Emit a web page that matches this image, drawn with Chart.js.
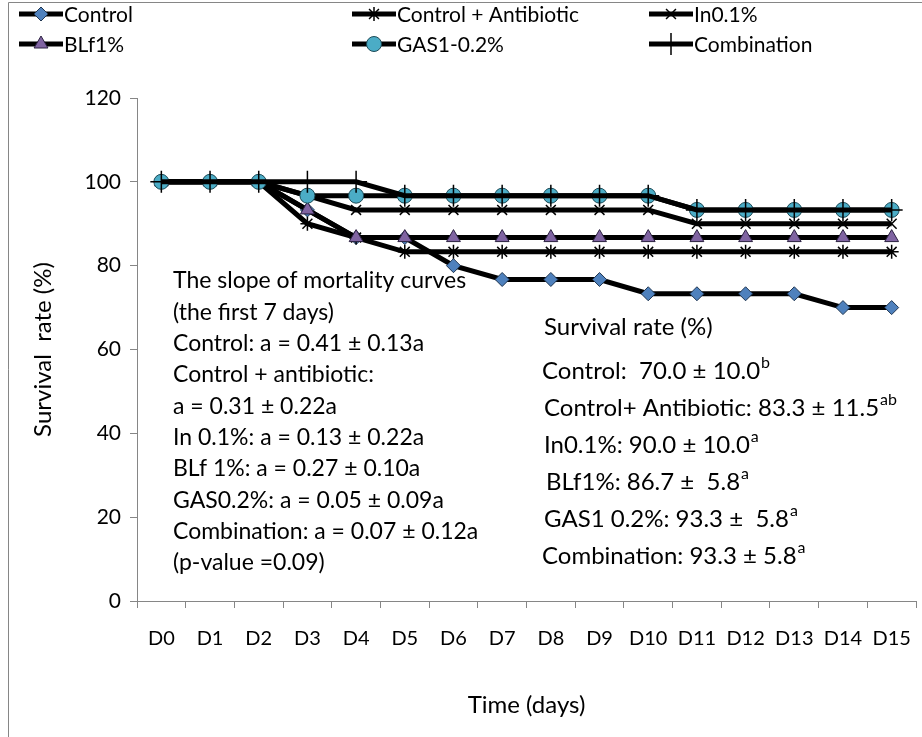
<!DOCTYPE html>
<html>
<head>
<meta charset="utf-8">
<script src="https://cdn.jsdelivr.net/npm/chart.js@4.4.1/dist/chart.umd.min.js"></script>
<style>
  html, body { margin: 0; padding: 0; background: #fff; }
  #wrap { position: relative; width: 922px; height: 737px; }
  canvas { display: block; }
</style>
</head>
<body>
<div id="wrap"><canvas id="c" width="922" height="737"></canvas></div>
<script>
// ---- data ----
const categories = ['D0','D1','D2','D3','D4','D5','D6','D7','D8','D9','D10','D11','D12','D13','D14','D15'];
const seriesNames = ['Control','Control + Antibiotic','In0.1%','BLf1%','GAS1-0.2%','Combination'];
const control      = [100,100,100,93.3,86.7,86.7,80,76.7,76.7,76.7,73.3,73.3,73.3,73.3,70,70];
const controlAntib = [100,100,100,90,86.7,83.3,83.3,83.3,83.3,83.3,83.3,83.3,83.3,83.3,83.3,83.3];
const in01         = [100,100,100,96.7,93.3,93.3,93.3,93.3,93.3,93.3,93.3,90,90,90,90,90];
const blf1         = [100,100,100,93.3,86.7,86.7,86.7,86.7,86.7,86.7,86.7,86.7,86.7,86.7,86.7,86.7];
const gas02        = [100,100,100,96.7,96.7,96.7,96.7,96.7,96.7,96.7,96.7,93.3,93.3,93.3,93.3,93.3];
const combination  = [100,100,100,100,100,96.7,96.7,96.7,96.7,96.7,96.7,93.3,93.3,93.3,93.3,93.3];
const yTickValues  = [0,20,40,60,80,100,120];
const yAxisTitle = 'Survival  rate (%)';
const xAxisTitle = 'Time (days)';
const slopeLines = [
  'The slope of mortality curves',
  '(the first 7 days)',
  'Control: a = 0.41 \u00b1 0.13a',
  'Control + antibiotic:',
  'a = 0.31 \u00b1 0.22a',
  'In 0.1%: a = 0.13 \u00b1 0.22a',
  'BLf 1%: a = 0.27 \u00b1 0.10a',
  'GAS0.2%: a = 0.05 \u00b1 0.09a',
  'Combination: a = 0.07 \u00b1 0.12a',
  '(p-value =0.09)'
];
const survivalTitle = 'Survival rate (%)';
const survivalLabels = ['Control:  70.0 \u00b1 10.0','Control+ Antibiotic: 83.3 \u00b1 11.5','In0.1%: 90.0 \u00b1 10.0','BLf1%: 86.7 \u00b1  5.8','GAS1 0.2%: 93.3 \u00b1  5.8','Combination: 93.3 \u00b1 5.8'];
const survivalLetters = ['b','ab','a','a','a','a'];

// ---- styles ----
const FONT = 'Lato, "Open Sans", sans-serif';
const seriesData = [control, controlAntib, in01, blf1, gas02, combination];
const markerStyles = [
  {pointStyle:'rectRot', radius:7, fill:'#4F81BD', border:'#1f3550', bw:1},
  {pointStyle:'star', radius:7, fill:'#000', border:'#000', bw:1.5},
  {pointStyle:'crossRot', radius:7, fill:'#000', border:'#000', bw:1.5},
  {pointStyle:'triangle', radius:8, fill:'#8064A2', border:'#2b2140', bw:1},
  {pointStyle:'circle', radius:7.5, fill:'#4BACC6', border:'#1d4a56', bw:1},
  {pointStyle:'cross', radius:11, fill:'#000', border:'#000', bw:1.5}
];

const datasets = seriesNames.map((name, i) => ({
  label: name,
  data: seriesData[i],
  borderColor: '#000',
  backgroundColor: '#000',
  borderWidth: 5,
  tension: 0,
  clip: false,
  pointStyle: markerStyles[i].pointStyle,
  pointRadius: markerStyles[i].radius,
  pointHoverRadius: markerStyles[i].radius,
  pointBackgroundColor: markerStyles[i].fill,
  pointBorderColor: markerStyles[i].border,
  pointBorderWidth: markerStyles[i].bw,
  order: seriesNames.length - i
}));

function drawMarker(ctx, ms, x, y) {
  ctx.save();
  ctx.fillStyle = ms.fill;
  ctx.strokeStyle = ms.border;
  ctx.lineWidth = ms.bw;
  if (Chart.helpers && Chart.helpers.drawPoint) {
    Chart.helpers.drawPoint(ctx, {pointStyle: ms.pointStyle, radius: ms.radius, borderWidth: ms.bw, rotation: 0}, x, y);
  }
  ctx.restore();
}

const legendPlugin = {
  id: 'customLegend',
  afterDraw(chart) {
    const ctx = chart.ctx;
    const cols = [19, 352, 649];
    const rows = [14, 44];
    const lineLen = 44;
    ctx.save();
    ctx.font = '21px ' + FONT;
    ctx.textBaseline = 'middle';
    seriesNames.forEach((name, i) => {
      const x = cols[i % 3], y = rows[Math.floor(i / 3)];
      ctx.strokeStyle = '#000';
      ctx.lineWidth = 5;
      ctx.beginPath();
      ctx.moveTo(x, y); ctx.lineTo(x + lineLen, y); ctx.stroke();
      drawMarker(ctx, markerStyles[i], x + lineLen / 2, y);
      ctx.fillStyle = '#000';
      ctx.fillText(name, x + lineLen + 1, y + 1);
    });
    ctx.restore();
  }
};

const annotPlugin = {
  id: 'annot',
  beforeDraw(chart) {
    const ctx = chart.ctx;
    ctx.save();
    ctx.strokeStyle = '#868686';
    ctx.lineWidth = 1;
    ctx.beginPath();
    ctx.moveTo(8.5, 737); ctx.lineTo(8.5, 2.5); ctx.lineTo(922, 2.5);
    ctx.stroke();
    ctx.restore();
  },
  beforeDatasetsDraw(chart) {
    const ctx = chart.ctx;
    ctx.save();
    ctx.fillStyle = '#000';
    ctx.textBaseline = 'middle';
    ctx.font = '23px ' + FONT;
    slopeLines.forEach((t, i) => ctx.fillText(t, 173, 281 + i * 31.3));
    ctx.font = '24px ' + FONT;
    ctx.fillText(survivalTitle, 544, 327);
    const ys = [371, 408, 445, 482, 519, 556];
    const xs = [542, 544, 544, 546, 544, 542];
    survivalLabels.forEach((t, i) => {
      ctx.font = '24px ' + FONT;
      ctx.fillText(t, xs[i], ys[i]);
      const w = ctx.measureText(t).width;
      ctx.font = '16px ' + FONT;
      ctx.fillText(survivalLetters[i], xs[i] + w + 1, ys[i] - 8);
    });
    ctx.restore();
  }
};

new Chart(document.getElementById('c'), {
  type: 'line',
  data: { labels: categories, datasets },
  plugins: [annotPlugin, legendPlugin],
  options: {
    responsive: false,
    animation: false,
    devicePixelRatio: 1,
    layout: { autoPadding: false, padding: { top: 98, right: 6, left: 0, bottom: 0 } },
    plugins: { legend: { display: false }, tooltip: { enabled: false } },
    scales: {
      x: {
        offset: true,
        grid: { offset: true, drawOnChartArea: false, drawTicks: true, tickLength: 7, color: '#868686' },
        border: { display: true, color: '#868686', width: 1 },
        ticks: { color: '#000', font: { family: FONT, size: 20, lineHeight: 2.9 }, padding: 2, maxRotation: 0, autoSkip: false },
        title: { display: true, text: xAxisTitle, color: '#000', font: { family: FONT, size: 24 }, padding: { top: 0, bottom: 17 } },
        afterFit(s) { s.height = 136; s.paddingLeft = 0; s.paddingRight = 0; }
      },
      y: {
        min: 0, max: 120,
        afterBuildTicks(s) { s.ticks = yTickValues.map(v => ({ value: v })); },
        grid: { drawOnChartArea: false, drawTicks: true, tickLength: 7, color: '#868686' },
        border: { display: true, color: '#868686', width: 1 },
        ticks: { color: '#000', font: { family: FONT, size: 21 }, padding: 9 },
        title: { display: true, text: yAxisTitle, color: '#000', font: { family: FONT, size: 24 }, padding: { top: 29, bottom: 0 } },
        afterFit(s) { s.width = 137; s.paddingTop = 0; s.paddingBottom = 0; }
      }
    }
  }
});
</script>
</body>
</html>
